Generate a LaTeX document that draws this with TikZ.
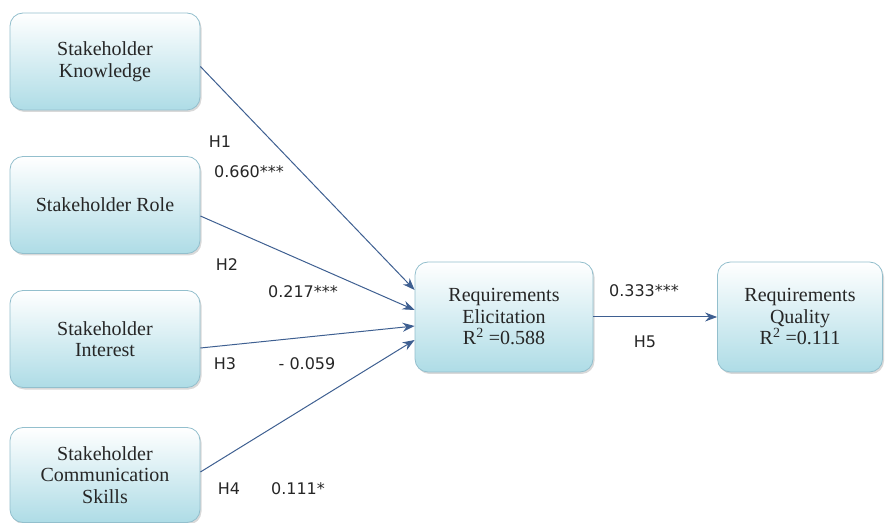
\documentclass[tikz,border=0pt]{standalone}
\usepackage{fontspec}
\setmainfont{Liberation Serif}
\newfontfamily\lblfont{DejaVu Sans}
\usetikzlibrary{arrows.meta,calc,shadows}
\definecolor{boxblue}{HTML}{AEDCE6}
\definecolor{boxline}{HTML}{93BFCD}
\definecolor{linkblue}{HTML}{3E5F91}
\definecolor{inkgrey}{HTML}{262626}

\begin{document}
\begin{tikzpicture}[x=1pt,y=1pt,
  construct/.style={draw=boxline,line width=0.8pt,rounded corners=13pt,
    top color=white,bottom color=boxblue,align=center,text=inkgrey,
    font=\fontsize{20}{21.5}\selectfont,inner sep=2pt,
    drop shadow={opacity=0.3,shadow xshift=1.5pt,shadow yshift=-2pt}},
  path/.style={draw=linkblue,line width=1pt,-{Stealth[length=12pt,width=9pt]}},
  coef/.style={font=\lblfont\fontsize{16}{18}\selectfont,text=inkgrey,inner sep=0pt}]
\useasboundingbox (0,0) rectangle (885,522);

% constructs
\node[construct,minimum width=190pt,minimum height=97pt] (know) at (105,460.5) {Stakeholder\\Knowledge};
\node[construct,minimum width=190pt,minimum height=97pt] (role) at (105,317) {Stakeholder Role};
\node[construct,minimum width=190pt,minimum height=97pt] (inter) at (105,183) {Stakeholder\\Interest};
\node[construct,minimum width=190pt,minimum height=95pt] (comm) at (105,47) {Stakeholder\\Communication\\Skills};
\node[construct,minimum width=178pt,minimum height=110pt] (elic) at (504,205) {Requirements\\Elicitation\\R\textsuperscript{2} =0.588};
\node[construct,minimum width=165pt,minimum height=110pt] (qual) at (800,205) {Requirements\\Quality\\R\textsuperscript{2} =0.111};

% paths
\draw[path] ($(know.east)+(0,-5)$) -- ($(elic.west)+(0,27)$);
\draw[path] ($(role.east)+(0,-11)$) -- ($(elic.west)+(0,7)$);
\draw[path] ($(inter.east)+(0,-9)$) -- ($(elic.west)+(0,-9)$);
\draw[path] ($(comm.east)+(0,3)$) -- ($(elic.west)+(0,-23)$);
\draw[path] (elic) -- (qual);

% hypotheses and coefficients
\node[coef] (h1) at (220,380) {H1};
\node[coef] (b1) at (249,350) {0.660***};
\node[coef] (h2) at (227,257) {H2};
\node[coef] (b2) at (303,230) {0.217***};
\node[coef] (h3) at (225,158) {H3};
\node[coef] (b3) at (307,158) {- 0.059};
\node[coef] (h4) at (229,33) {H4};
\node[coef] (b4) at (298,33) {0.111*};
\node[coef] (b5) at (644,231) {0.333***};
\node[coef] (h5) at (645,180) {H5};
\end{tikzpicture}
\end{document}
